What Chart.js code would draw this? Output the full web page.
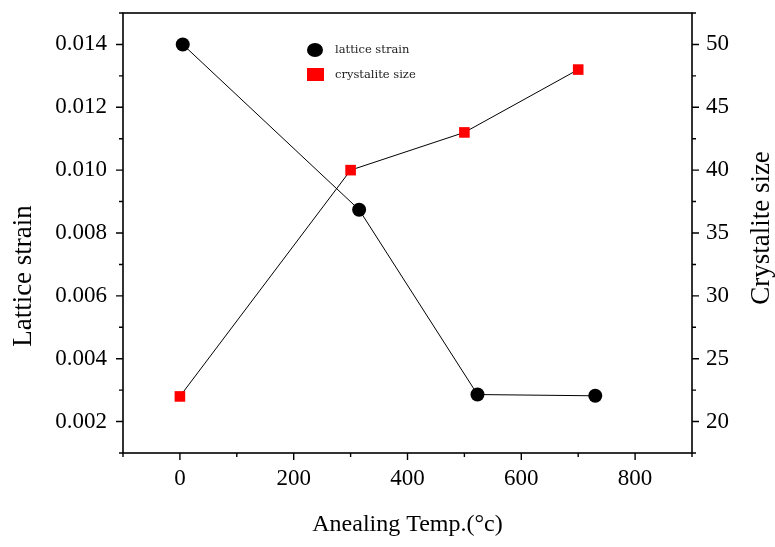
<!DOCTYPE html>
<html>
<head>
<meta charset="utf-8">
<script src="https://cdn.jsdelivr.net/npm/chart.js@4.4.0/dist/chart.umd.min.js"></script>
<style>
html,body{margin:0;padding:0;background:#fff;}
#wrap{width:775px;height:547px;}
</style>
</head>
<body>
<div id="wrap"><canvas id="c" width="775" height="547"></canvas></div>
<script>
// ---- data ----
const strainTemps = [5, 315, 523, 730];
const strainValues = [0.0140, 0.00874, 0.00286, 0.00282];
const sizeTemps = [0, 300, 500, 700];
const sizeValues = [22, 40, 43, 48];
const xTicks = [0, 200, 400, 600, 800];
const xMinor = [-100, 100, 300, 500, 700, 900];
const leftTicks = [0.002, 0.004, 0.006, 0.008, 0.010, 0.012, 0.014];
const leftMinor = [0.001, 0.003, 0.005, 0.007, 0.009, 0.011, 0.013, 0.015];
const rightTicks = [20, 25, 30, 35, 40, 45, 50];
const rightMinor = [17.5, 22.5, 27.5, 32.5, 37.5, 42.5, 47.5, 52.5];
const seriesNames = ['lattice strain', 'crystalite size'];
const leftTitle = 'Lattice strain';
const rightTitle = 'Crystalite size';

const FONT = 'Liberation Serif, Times New Roman, serif';

function vText(ctx, text, x, y, size) {
  ctx.save();
  ctx.translate(x, y);
  ctx.rotate(-Math.PI / 2);
  ctx.fillStyle = '#000';
  ctx.font = size + 'px ' + FONT;
  ctx.textAlign = 'center';
  ctx.textBaseline = 'middle';
  ctx.fillText(text, 0, 0);
  ctx.restore();
}

const tickPlugin = {
  id: 'ticksFrame',
  afterDraw(chart) {
    const ctx = chart.ctx;
    const a = chart.chartArea;
    const sx = chart.scales.x, sl = chart.scales.y, sr = chart.scales.y2;
    ctx.save();
    ctx.strokeStyle = '#000';
    ctx.lineWidth = 1.6;
    ctx.strokeRect(a.left, a.top, a.right - a.left, a.bottom - a.top);
    ctx.lineWidth = 1.4;
    ctx.beginPath();
    const MAJ = 7, MIN = 4;
    xTicks.forEach(v => { const p = sx.getPixelForValue(v); ctx.moveTo(p, a.bottom); ctx.lineTo(p, a.bottom + MAJ); });
    xMinor.forEach(v => { const p = sx.getPixelForValue(v); ctx.moveTo(p, a.bottom); ctx.lineTo(p, a.bottom + MIN); });
    leftTicks.forEach(v => { const p = sl.getPixelForValue(v); ctx.moveTo(a.left, p); ctx.lineTo(a.left - MAJ, p); });
    leftMinor.forEach(v => { const p = sl.getPixelForValue(v); ctx.moveTo(a.left, p); ctx.lineTo(a.left - MIN, p); });
    rightTicks.forEach(v => { const p = sr.getPixelForValue(v); ctx.moveTo(a.right, p); ctx.lineTo(a.right + MAJ, p); });
    rightMinor.forEach(v => { const p = sr.getPixelForValue(v); ctx.moveTo(a.right, p); ctx.lineTo(a.right + MIN, p); });
    ctx.stroke();

    // vertical axis titles (both read bottom to top)
    vText(ctx, leftTitle, 24, 276, 27);
    vText(ctx, rightTitle, 762, 228, 27);

    // legend
    const ds = chart.data.datasets;
    ctx.fillStyle = ds[0].pointBackgroundColor;
    ctx.beginPath();
    ctx.ellipse(315, 50, 8, 7, 0, 0, Math.PI * 2);
    ctx.fill();
    ctx.fillStyle = ds[1].pointBackgroundColor;
    ctx.fillRect(307, 68, 17, 13);
    ctx.fillStyle = '#222';
    ctx.font = '11.5px "DejaVu Serif", serif';
    ctx.textBaseline = 'middle';
    ctx.textAlign = 'left';
    ctx.fillText(seriesNames[0], 335, 50);
    ctx.fillText(seriesNames[1], 335, 75);
    ctx.restore();
  }
};

new Chart(document.getElementById('c'), {
  type: 'scatter',
  data: {
    datasets: [
      {
        label: seriesNames[0],
        data: strainTemps.map((t, i) => ({x: t, y: strainValues[i]})),
        yAxisID: 'y',
        showLine: true,
        borderColor: '#000',
        borderWidth: 1,
        pointBackgroundColor: '#000',
        pointBorderWidth: 0,
        pointRadius: 7,
        pointStyle: 'circle',
        tension: 0
      },
      {
        label: seriesNames[1],
        data: sizeTemps.map((t, i) => ({x: t, y: sizeValues[i]})),
        yAxisID: 'y2',
        showLine: true,
        borderColor: '#000',
        borderWidth: 1,
        pointBackgroundColor: '#ff0000',
        pointBorderWidth: 0,
        pointRadius: 7.5,
        pointStyle: 'rect',
        tension: 0
      }
    ]
  },
  options: {
    responsive: false,
    animation: false,
    layout: {padding: {top: 13, left: 0, right: 0, bottom: 0}},
    plugins: {legend: {display: false}, tooltip: {enabled: false}},
    scales: {
      x: {
        type: 'linear', position: 'bottom', min: -100, max: 900,
        afterFit(s) { s.height = 94; s.paddingLeft = 0; s.paddingRight = 0; },
        afterBuildTicks(s) { s.ticks = xTicks.map(v => ({value: v})); },
        grid: {display: false, drawTicks: false},
        border: {display: false},
        ticks: {color: '#000', font: {family: FONT, size: 23}, padding: 12},
        title: {display: true, text: 'Anealing Temp.(°c)', color: '#000', font: {family: FONT, size: 24}, padding: {top: 0, bottom: 8}}
      },
      y: {
        type: 'linear', position: 'left', min: 0.001, max: 0.015,
        afterFit(s) { s.width = 123; s.paddingTop = 0; s.paddingBottom = 0; },
        afterBuildTicks(s) { s.ticks = leftTicks.map(v => ({value: v})); },
        grid: {display: false, drawTicks: false},
        border: {display: false},
        ticks: {color: '#000', font: {family: FONT, size: 23}, padding: 16, callback: v => v.toFixed(3)},
        title: {display: false}
      },
      y2: {
        type: 'linear', position: 'right', min: 17.5, max: 52.5,
        afterFit(s) { s.width = 83; s.paddingTop = 0; s.paddingBottom = 0; },
        afterBuildTicks(s) { s.ticks = rightTicks.map(v => ({value: v})); },
        grid: {display: false, drawTicks: false},
        border: {display: false},
        ticks: {color: '#000', font: {family: FONT, size: 23}, padding: 14, callback: v => String(v)},
        title: {display: false}
      }
    }
  },
  plugins: [tickPlugin]
});
</script>
</body>
</html>
